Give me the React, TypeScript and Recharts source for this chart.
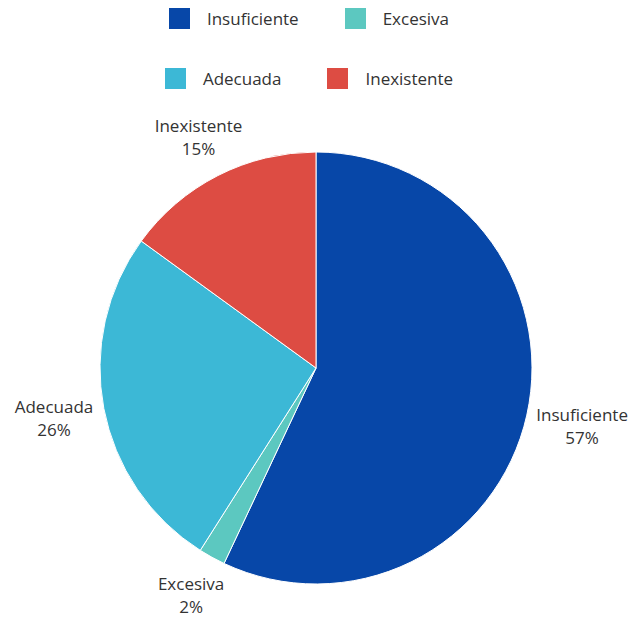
import { PieChart, Pie, Cell } from "recharts";

const categories = ["Insuficiente", "Excesiva", "Adecuada", "Inexistente"];
const values = [57, 2, 26, 15];
const colors = ["#0747a8", "#5cc8c0", "#3cb8d6", "#dd4c43"];

const data = categories.map((name, i) => ({ name, value: values[i] }));
const legendRows = [
  [0, 1],
  [2, 3],
];

const FONT = "'Open Sans', sans-serif";
const RADIAN = Math.PI / 180;

function renderLabel(props: any) {
  const { cx, cy, midAngle, outerRadius, name, value } = props;
  const cos = Math.cos(-midAngle * RADIAN);
  const sin = Math.sin(-midAngle * RADIAN);
  const r = outerRadius + 36 + 15 * Math.abs(cos);
  const x = cx + r * cos + (cos > 0 ? 6 * cos : 0);
  const y = cy + r * sin;
  return (
    <text
      x={x}
      y={y}
      textAnchor="middle"
      fontFamily={FONT}
      fontSize={17}
      fill="#333333"
    >
      <tspan x={x} dy={-5}>
        {name}
      </tspan>
      <tspan x={x} dy={23}>
        {value}%
      </tspan>
    </text>
  );
}

export default function App() {
  return (
    <div style={{ position: "absolute", left: 0, top: 0, width: 633, height: 617, background: "#fff" }}>
      <div style={{ position: "absolute", left: 0, top: 0, width: 633, fontFamily: FONT, fontSize: 17, color: "#333" }}>
        {legendRows.map((row, ri) => (
          <div
            key={ri}
            style={{
              position: "absolute",
              top: ri === 0 ? 8 : 68,
              left: 0,
              width: 618,
              display: "flex",
              justifyContent: "center",
              gap: 46,
            }}
          >
            {row.map((i) => (
              <div key={categories[i]} style={{ display: "flex", alignItems: "center", gap: 17, height: 21 }}>
                <div style={{ width: 21, height: 21, background: colors[i] }} />
                <span>{categories[i]}</span>
              </div>
            ))}
          </div>
        ))}
      </div>
      <PieChart width={633} height={617}>
        <Pie
          data={data}
          dataKey="value"
          nameKey="name"
          cx={311}
          cy={363}
          outerRadius={216}
          startAngle={90}
          endAngle={-270}
          stroke="#ffffff"
          strokeWidth={1}
          label={renderLabel}
          labelLine={false}
          isAnimationActive={false}
        >
          {data.map((_, i) => (
            <Cell key={i} fill={colors[i]} />
          ))}
        </Pie>
      </PieChart>
    </div>
  );
}
